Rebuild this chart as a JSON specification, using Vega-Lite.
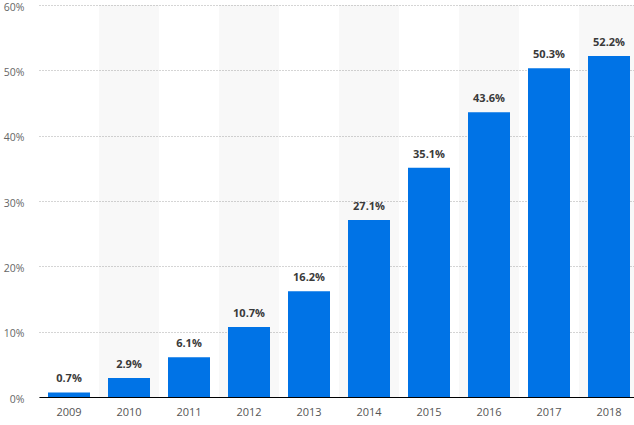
{
  "$schema": "https://vega.github.io/schema/vega-lite/v6.json",
  "width": 600,
  "height": 392,
  "autosize": "none",
  "padding": {"left": 39, "top": 5, "right": 0, "bottom": 28},
  "config": {
    "view": {"stroke": null},
    "font": "Open Sans",
    "axisY": {
      "title": null,
      "domain": false,
      "ticks": false,
      "grid": true,
      "labelPadding": 15,
      "labelColor": "#666",
      "labelFontSize": 10.5,
      "labelOffset": 2,
      "gridDash": [1, 2],
      "gridColor": "#aaaaaa",
      "gridWidth": 1,
      "gridOpacity": 1
    }
  },
  "data": {
    "values": [
      {"year": "2009", "share": 0.007},
      {"year": "2010", "share": 0.029},
      {"year": "2011", "share": 0.061},
      {"year": "2012", "share": 0.107},
      {"year": "2013", "share": 0.162},
      {"year": "2014", "share": 0.271},
      {"year": "2015", "share": 0.351},
      {"year": "2016", "share": 0.436},
      {"year": "2017", "share": 0.503},
      {"year": "2018", "share": 0.522}
    ]
  },
  "encoding": {
    "x": {
      "field": "year",
      "type": "ordinal",
      "scale": {"paddingInner": 0, "paddingOuter": 0},
      "axis": {
        "title": null,
        "ticks": false,
        "grid": false,
        "labelAngle": 0,
        "labelPadding": 9,
        "labelColor": "#555",
        "labelFontSize": 11,
        "domainColor": "#000",
        "domainWidth": 1,
        "zindex": 1
      }
    }
  },
  "layer": [
    {
      "transform": [{"filter": "toNumber(datum.year) % 2 == 0"}],
      "mark": {"type": "bar", "color": "#000", "opacity": 0.028, "width": {"band": 1}},
      "encoding": {
        "y": {"datum": 0.6, "type": "quantitative", "scale": {"domain": [0, 0.6], "nice": false}, "axis": {"format": ".0%", "values": [0, 0.1, 0.2, 0.3, 0.4, 0.5, 0.6], "grid": true}},
        "y2": {"datum": 0}
      }
    },
    {
      "mark": {"type": "bar", "color": "#0073e6", "width": {"band": 0.7}},
      "encoding": {
        "y": {"field": "share", "type": "quantitative"}
      }
    },
    {
      "mark": {"type": "text", "dy": -8, "baseline": "bottom", "fontWeight": "bold", "fontSize": 11, "color": "#3a3a3a"},
      "encoding": {
        "y": {"field": "share", "type": "quantitative"},
        "text": {"field": "share", "type": "quantitative", "format": ".1%"}
      }
    }
  ]
}
